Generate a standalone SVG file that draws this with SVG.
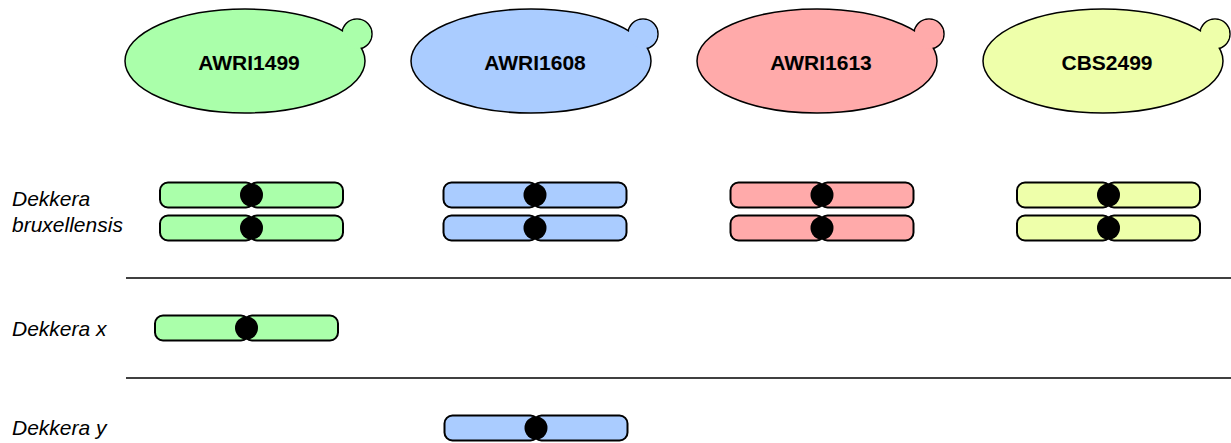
<svg xmlns="http://www.w3.org/2000/svg" width="1231" height="443" viewBox="0 0 1231 443">
<style>
.cell{stroke:#000;stroke-width:1.5}
.arm{stroke:#000;stroke-width:2}
.cen{fill:#000}
.lbl{font-family:"Liberation Sans",Arial,sans-serif;font-size:21px;font-weight:bold;text-anchor:middle;fill:#000}
.sp{font-family:"Liberation Sans",Arial,sans-serif;font-size:21px;font-style:italic;fill:#000}
.g{fill:#aaffaa}.b{fill:#aaccff}.p{fill:#ffaaaa}.y{fill:#eeffaa}
.sep{stroke:#000;stroke-width:1.5}
</style>
<defs>
<g id="chrom">
<rect class="arm" x="0" y="0" width="94" height="25" rx="8"/>
<rect class="arm" x="89" y="0" width="94" height="25" rx="8"/>
<circle class="cen" cx="91.5" cy="12.5" r="11.5"/>
</g>
</defs>
<g id="cell-AWRI1499">
<circle class="cell g" cx="357" cy="34" r="15"/>
<ellipse class="cell g" cx="245" cy="61" rx="120" ry="52"/>
<circle class="g" cx="357" cy="34" r="14.2"/>
<text class="lbl" x="249" y="70">AWRI1499</text>
</g>
<g id="cell-AWRI1608">
<circle class="cell b" cx="643" cy="34" r="15"/>
<ellipse class="cell b" cx="531" cy="61" rx="120" ry="52"/>
<circle class="b" cx="643" cy="34" r="14.2"/>
<text class="lbl" x="535" y="70">AWRI1608</text>
</g>
<g id="cell-AWRI1613">
<circle class="cell p" cx="929" cy="34" r="15"/>
<ellipse class="cell p" cx="817" cy="61" rx="120" ry="52"/>
<circle class="p" cx="929" cy="34" r="14.2"/>
<text class="lbl" x="821" y="70">AWRI1613</text>
</g>
<g id="cell-CBS2499">
<circle class="cell y" cx="1215" cy="34" r="15"/>
<ellipse class="cell y" cx="1103" cy="61" rx="120" ry="52"/>
<circle class="y" cx="1215" cy="34" r="14.2"/>
<text class="lbl" x="1107" y="70">CBS2499</text>
</g>
<g id="labels">
<text class="sp" x="12" y="206">Dekkera</text>
<text class="sp" x="12" y="232">bruxellensis</text>
<text class="sp" x="12" y="336">Dekkera x</text>
<text class="sp" x="12" y="435">Dekkera y</text>
</g>
<g id="separators">
<line class="sep" x1="126" y1="278" x2="1231" y2="278"/>
<line class="sep" x1="126" y1="378" x2="1231" y2="378"/>
</g>
<g id="chromosomes-bruxellensis">
<use href="#chrom" class="g" x="160" y="182.5"/>
<use href="#chrom" class="g" x="160" y="215.5"/>
<use href="#chrom" class="b" x="443.5" y="182.5"/>
<use href="#chrom" class="b" x="443.5" y="215.5"/>
<use href="#chrom" class="p" x="730.5" y="182.5"/>
<use href="#chrom" class="p" x="730.5" y="215.5"/>
<use href="#chrom" class="y" x="1017" y="182.5"/>
<use href="#chrom" class="y" x="1017" y="215.5"/>
</g>
<g id="chromosome-x">
<use href="#chrom" class="g" x="155" y="315.5"/>
</g>
<g id="chromosome-y">
<use href="#chrom" class="b" x="444.5" y="415.5"/>
</g>
</svg>
